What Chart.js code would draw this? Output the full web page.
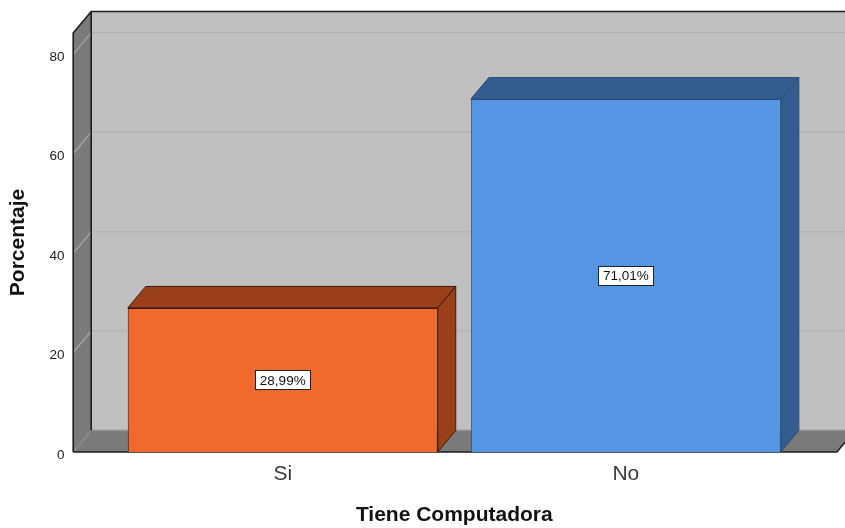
<!DOCTYPE html>
<html>
<head>
<meta charset="utf-8">
<script src="https://cdn.jsdelivr.net/npm/chart.js@4/dist/chart.umd.min.js"></script>
<style>
  html, body { margin: 0; padding: 0; background: #ffffff; }
  #wrap { width: 845px; height: 528px; }
</style>
</head>
<body>
<div id="wrap"><canvas id="c" width="845" height="528"></canvas></div>
<script>
// Categories and percentages
const categories = ['Si', 'No'];
const percentages = [28.99, 71.01];
const yTickValues = [0, 20, 40, 60, 80];

// Bar face colours: front, shaded top/side, outline
const frontColors = ['#F26A2B', '#5496E3'];
const shadeColors = ['#99401A', '#335C8F'];
const edgeColors = ['#3A1A0C', '#2C4D78'];

const FONT = "'Liberation Sans', Arial, sans-serif";
Chart.defaults.font.family = FONT;

// Depth of the 3D box (x shift, y shift)
const DX = 18, DY = 21.5;

const box3d = {
  id: 'box3d',
  beforeDatasetsDraw(chart) {
    const ctx = chart.ctx;
    const area = chart.chartArea;
    const ys = chart.scales.y;
    const y0 = ys.getPixelForValue(0);
    const yTop = area.top;
    const fl = area.left - 38;
    const fr = area.right + 39.5;

    ctx.save();
    // back wall
    ctx.fillStyle = '#C0C0C0';
    ctx.fillRect(fl + DX, yTop - DY, fr - fl + 20, y0 - yTop);
    // left wall
    ctx.fillStyle = '#7A7A7A';
    ctx.beginPath();
    ctx.moveTo(fl, yTop); ctx.lineTo(fl + DX, yTop - DY);
    ctx.lineTo(fl + DX, y0 - DY); ctx.lineTo(fl, y0); ctx.closePath();
    ctx.fill();
    // floor
    ctx.beginPath();
    ctx.moveTo(fl, y0); ctx.lineTo(fl + DX, y0 - DY);
    ctx.lineTo(fr + DX, y0 - DY); ctx.lineTo(fr, y0); ctx.closePath();
    ctx.fill();

    // grid lines from the y scale ticks
    ctx.lineWidth = 1.5;
    ys.ticks.forEach(t => {
      const y = ys.getPixelForValue(t.value);
      ctx.strokeStyle = t.value === 0 ? '#8E8E8E' : '#B4B4B4';
      ctx.beginPath();
      ctx.moveTo(fl + DX, y - DY); ctx.lineTo(fr + DX + 20, y - DY);
      ctx.stroke();
      ctx.strokeStyle = t.value === 0 ? '#8E8E8E' : '#A2A2A2';
      ctx.beginPath();
      ctx.moveTo(fl, y); ctx.lineTo(fl + DX, y - DY);
      ctx.stroke();
    });

    // frame edges
    ctx.strokeStyle = '#1E1E1E';
    ctx.lineWidth = 1.6;
    ctx.beginPath();
    ctx.moveTo(fl, y0); ctx.lineTo(fl, yTop); ctx.lineTo(fl + DX, yTop - DY);
    ctx.lineTo(fr + DX + 20, yTop - DY);
    ctx.moveTo(fl + DX, yTop - DY); ctx.lineTo(fl + DX, y0 - DY);
    ctx.moveTo(fl, y0); ctx.lineTo(fr, y0); ctx.lineTo(fr + DX, y0 - DY);
    ctx.stroke();

    // top and side faces of each bar
    const meta = chart.getDatasetMeta(0);
    meta.data.forEach((el, i) => {
      const w = el.width;
      const x0 = el.x - w / 2, x1 = el.x + w / 2;
      const yt = el.y, yb = el.base;
      ctx.fillStyle = shadeColors[i];
      ctx.strokeStyle = edgeColors[i];
      ctx.lineWidth = 1;
      ctx.beginPath();
      ctx.moveTo(x0, yt); ctx.lineTo(x0 + DX, yt - DY);
      ctx.lineTo(x1 + DX, yt - DY); ctx.lineTo(x1, yt); ctx.closePath();
      ctx.fill(); ctx.stroke();
      ctx.beginPath();
      ctx.moveTo(x1, yt); ctx.lineTo(x1 + DX, yt - DY);
      ctx.lineTo(x1 + DX, yb - DY); ctx.lineTo(x1, yb); ctx.closePath();
      ctx.fill(); ctx.stroke();
    });
    ctx.restore();
  },
  afterDatasetsDraw(chart) {
    const ctx = chart.ctx;
    const meta = chart.getDatasetMeta(0);
    ctx.save();
    ctx.font = '13.5px ' + FONT;
    ctx.textAlign = 'center';
    ctx.textBaseline = 'middle';
    meta.data.forEach((el, i) => {
      const text = percentages[i].toFixed(2).replace('.', ',') + '%';
      const cx = el.x, cy = (el.y + el.base) / 2;
      const w = ctx.measureText(text).width + 9, h = 19;
      ctx.fillStyle = '#FFFFFF';
      ctx.fillRect(Math.round(cx - w / 2) + 0.5, Math.round(cy - h / 2) + 0.5, Math.round(w), h);
      ctx.strokeStyle = '#222222';
      ctx.lineWidth = 1;
      ctx.strokeRect(Math.round(cx - w / 2) + 0.5, Math.round(cy - h / 2) + 0.5, Math.round(w), h);
      ctx.fillStyle = '#111111';
      ctx.fillText(text, cx, cy + 1);
    });
    ctx.restore();
  }
};

new Chart(document.getElementById('c'), {
  type: 'bar',
  data: {
    labels: categories,
    datasets: [{
      data: percentages,
      backgroundColor: frontColors,
      borderColor: edgeColors,
      borderWidth: 1,
      barPercentage: 0.9035,
      categoryPercentage: 1
    }]
  },
  options: {
    responsive: false,
    animation: false,
    devicePixelRatio: 1,
    layout: { padding: { top: 33, right: 47.6, left: 0, bottom: 0 } },
    plugins: { legend: { display: false }, tooltip: { enabled: false } },
    scales: {
      x: {
        offset: true,
        grid: { display: false, drawTicks: false },
        border: { display: false },
        ticks: { font: { size: 21 }, color: '#3A3A3A', padding: 10 },
        title: {
          display: true, text: 'Tiene Computadora', color: '#111111',
          font: { size: 21, weight: 'bold' }, padding: { top: 0, bottom: 0 }
        },
        afterFit(s) { s.height = 76; }
      },
      y: {
        min: 0, max: 84.3,
        grid: { display: false, drawTicks: false },
        border: { display: false },
        afterBuildTicks(s) { s.ticks = yTickValues.map(v => ({ value: v })); },
        ticks: { font: { size: 13.5 }, color: '#222222', padding: 46.7, labelOffset: 3 },
        title: {
          display: true, text: 'Porcentaje', color: '#111111',
          font: { size: 21, weight: 'bold' }, padding: { top: 6, bottom: 0 }
        },
        afterFit(s) {
          s.width = 111.2;
          s.paddingTop = 8;
          s.paddingBottom = 8;
        }
      }
    }
  },
  plugins: [box3d]
});
</script>
</body>
</html>
